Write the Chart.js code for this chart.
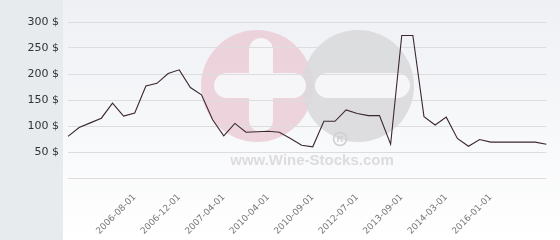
<!DOCTYPE html>
<html>
<head>
<meta charset="utf-8">
<script src="https://cdn.jsdelivr.net/npm/chart.js@4/dist/chart.umd.min.js"></script>
<style>
  html, body { margin: 0; padding: 0; background: #fff; }
</style>
</head>
<body>
<canvas id="priceChart" width="560" height="240"></canvas>
<script>
// dates shown under the axis (other points have no visible label)
const dates = [
    '', '', '', '', '', '', '2006-08-01', '', '', '', '2006-12-01', '',
    '', '', '2007-04-01', '', '', '', '2010-04-01', '', '', '',
    '2010-09-01', '', '', '', '2012-07-01', '', '', '', '2013-09-01', '',
    '', '', '2014-03-01', '', '', '', '2016-01-01', '', '', '', '', ''
];
// price in $
const prices = [
    80, 97, 106, 115, 144, 119, 125, 177, 182, 201, 208, 174,
    160, 112, 81, 105, 88, 89, 90, 88, 76, 63,
    60, 109, 109, 131, 124, 120, 120, 65, 274, 274,
    118, 102, 117, 76, 61, 74, 69, 69, 69, 69, 69, 65
];
const yTicks = [0, 50, 100, 150, 200, 250, 300];

// background panels + watermark, drawn under the grid
const backdrop = {
    id: 'backdrop',
    beforeDraw: function(chart) {
        var ctx = chart.ctx;
        ctx.save();
        ctx.fillStyle = '#e7ebee';
        ctx.fillRect(0, 0, 63, 240);
        var g = ctx.createLinearGradient(0, 0, 0, 240);
        g.addColorStop(0, '#eef0f4');
        g.addColorStop(1, '#ffffff');
        ctx.fillStyle = g;
        ctx.fillRect(63, 0, 497, 240);

        ctx.globalAlpha = 0.85;
        ctx.fillStyle = '#ebcdd6';
        ctx.beginPath(); ctx.arc(257, 86, 56, 0, Math.PI * 2); ctx.fill();
        ctx.fillStyle = '#d8d8da';
        ctx.beginPath(); ctx.arc(358, 86, 56, 0, Math.PI * 2); ctx.fill();
        ctx.globalAlpha = 1;

        ctx.fillStyle = '#f6f6f9';
        function bar(x, y, w, h) {
            ctx.beginPath();
            ctx.roundRect(x, y, w, h, Math.min(w, h) / 2);
            ctx.fill();
        }
        bar(214, 73, 92, 25);
        bar(249, 38, 24, 94);
        bar(315, 73, 95, 25);

        ctx.fillStyle = '#dcdcdc';
        ctx.font = 'bold 15px "Liberation Sans"';
        ctx.textAlign = 'center';
        ctx.textBaseline = 'middle';
        ctx.fillText('www.Wine-Stocks.com', 312, 161);

        ctx.strokeStyle = '#cfcfcf';
        ctx.lineWidth = 1.5;
        ctx.beginPath(); ctx.arc(340, 139, 6.5, 0, Math.PI * 2); ctx.stroke();
        ctx.fillStyle = '#cfcfcf';
        ctx.font = 'bold 9px "Liberation Sans"';
        ctx.fillText('R', 340, 139.5);
        ctx.restore();
    }
};

new Chart(document.getElementById('priceChart'), {
    type: 'line',
    data: {
        labels: dates,
        datasets: [{
            data: prices,
            borderColor: '#3b2730',
            borderWidth: 1.1,
            pointRadius: 0,
            tension: 0,
            fill: false
        }]
    },
    options: {
        responsive: false,
        animation: false,
        devicePixelRatio: 1,
        layout: { padding: { top: 22, right: 5, left: 0, bottom: 0 } },
        plugins: {
            legend: { display: false },
            tooltip: { enabled: false }
        },
        scales: {
            x: {
                grid: { display: false },
                border: { display: false },
                ticks: {
                    autoSkip: false,
                    minRotation: 45,
                    maxRotation: 45,
                    padding: 6,
                    color: '#777',
                    font: { family: 'DejaVu Sans', size: 9 }
                },
                afterFit: function(scale) { scale.height = 62; }
            },
            y: {
                min: 0,
                max: 300,
                afterBuildTicks: function(scale) {
                    scale.ticks = yTicks.map(function(v) { return { value: v }; });
                },
                grid: { color: '#dddddd', drawTicks: false },
                border: { display: false },
                ticks: {
                    padding: 9,
                    color: '#333',
                    font: { family: 'DejaVu Sans', size: 11 },
                    callback: function(v) { return v === 0 ? '' : v + ' $'; }
                },
                afterFit: function(scale) { scale.width = 68; }
            }
        }
    },
    plugins: [backdrop]
});
</script>
</body>
</html>
